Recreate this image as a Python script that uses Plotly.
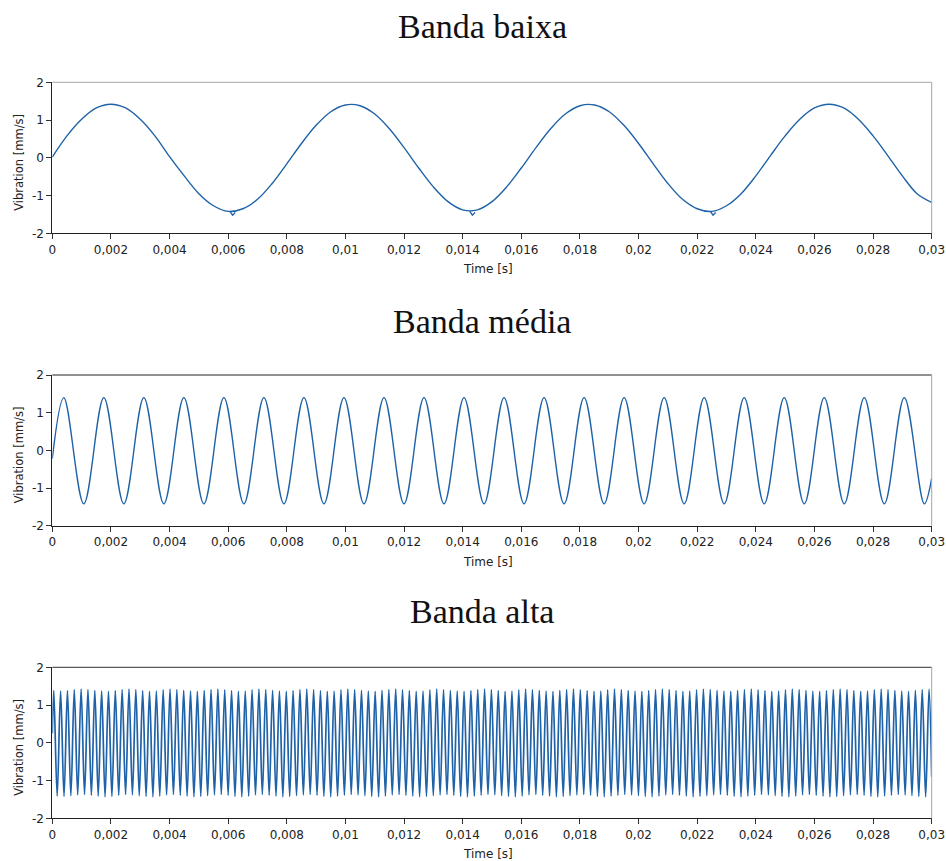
import numpy as np
import plotly.graph_objects as go

# ---------------- data ----------------
time_ticks = [0, 0.002, 0.004, 0.006, 0.008, 0.01, 0.012, 0.014, 0.016,
              0.018, 0.02, 0.022, 0.024, 0.026, 0.028, 0.03]
time_tick_labels = ["0", "0,002", "0,004", "0,006", "0,008", "0,01", "0,012",
                    "0,014", "0,016", "0,018", "0,02", "0,022", "0,024",
                    "0,026", "0,028", "0,03"]
vib_ticks = [-2, -1, 0, 1, 2]
vib_tick_labels = ["-2", "-1", "0", "1", "2"]

panel_titles = ["Banda baixa", "Banda média", "Banda alta"]

# low band: readings every 0.5 ms (mm/s)
low_step = 0.0005
low_v = [0.02, 0.58, 1.02, 1.32, 1.42, 1.32, 1.02, 0.58, 0.03, -0.48,
         -0.95, -1.27, -1.42, -1.35, -1.10, -0.68, -0.16, 0.38, 0.86, 1.22,
         1.40, 1.38, 1.16, 0.77, 0.27, -0.27, -0.77, -1.16, -1.38, -1.38,
         -1.16, -0.77, -0.27, 0.27, 0.77, 1.16, 1.38, 1.40, 1.22, 0.86,
         0.38, -0.16, -0.68, -1.10, -1.35, -1.42, -1.27, -0.95, -0.48, 0.06,
         0.58, 1.02, 1.32, 1.42, 1.32, 1.02, 0.58, 0.06, -0.48, -0.95,
         -1.18]
# small glitches at the troughs of the low band
low_glitch_t = [0.00606, 0.00615, 0.00624, None,
                0.01424, 0.01433, 0.01442, None,
                0.02245, 0.02254, 0.02263]
low_glitch_v = [-1.42, -1.52, -1.45, None,
                -1.41, -1.52, -1.45, None,
                -1.42, -1.52, -1.45]

# mid band: start value, alternating peaks/troughs, end value
mid_start_v = -0.22
mid_first_peak_t = 0.000392
mid_last_trough_t = 0.029748
mid_extremes = [1.40, -1.42, 1.40, -1.42, 1.40, -1.42, 1.40, -1.42, 1.40, -1.42, 1.40,
                -1.42, 1.40, -1.42, 1.40, -1.42, 1.40, -1.42, 1.40, -1.42, 1.40, -1.42,
                1.40, -1.42, 1.40, -1.42, 1.40, -1.42, 1.40, -1.42, 1.40, -1.42, 1.40,
                -1.42, 1.40, -1.42, 1.40, -1.42, 1.40, -1.42, 1.40, -1.42, 1.40, -1.42]
mid_end_v = -0.74

# high band: start value, peaks and troughs, end value
high_start_v = 0.25
high_first_peak_t = 0.00005
high_last_peak_t = 0.02991
high_peaks = [
    1.38, 1.37, 1.38, 1.41, 1.42, 1.41, 1.39, 1.37, 1.36, 1.38, 1.41, 1.42, 1.41, 1.38, 1.36, 1.37,
    1.40, 1.42, 1.41, 1.39, 1.37, 1.36, 1.39, 1.41, 1.42, 1.40, 1.38, 1.36, 1.37, 1.40, 1.42, 1.41,
    1.39, 1.37, 1.36, 1.38, 1.41, 1.42, 1.41, 1.38, 1.36, 1.37, 1.40, 1.42, 1.41, 1.39, 1.37, 1.36,
    1.39, 1.41, 1.42, 1.40, 1.38, 1.36, 1.37, 1.40, 1.42, 1.41, 1.39, 1.37, 1.36, 1.38, 1.41, 1.42,
    1.41, 1.38, 1.36, 1.37, 1.40, 1.42, 1.41, 1.39, 1.37, 1.36, 1.39, 1.41, 1.42, 1.40, 1.38, 1.36,
    1.37, 1.40, 1.42, 1.41, 1.39, 1.37, 1.36, 1.38, 1.41, 1.42, 1.41, 1.38, 1.36, 1.37, 1.40, 1.42,
    1.41, 1.39, 1.37, 1.36, 1.39, 1.41, 1.42, 1.40, 1.38, 1.36, 1.37, 1.40, 1.42, 1.41, 1.39, 1.37,
    1.36, 1.38, 1.41, 1.42, 1.41, 1.38, 1.36, 1.37, 1.40, 1.42, 1.41, 1.39, 1.37, 1.36, 1.39, 1.41,
    1.42]
high_troughs = [
    -1.41, -1.42, -1.40, -1.38, -1.37, -1.39, -1.41, -1.43, -1.42, -1.39, -1.37, -1.38, -1.40, -1.42, -1.43, -1.41,
    -1.38, -1.37, -1.39, -1.41, -1.43, -1.42, -1.40, -1.38, -1.37, -1.39, -1.42, -1.43, -1.41, -1.38, -1.37, -1.39,
    -1.41, -1.43, -1.42, -1.40, -1.38, -1.37, -1.39, -1.42, -1.43, -1.41, -1.39, -1.37, -1.38, -1.40, -1.42, -1.43,
    -1.41, -1.38, -1.37, -1.39, -1.41, -1.43, -1.42, -1.40, -1.38, -1.37, -1.39, -1.42, -1.43, -1.41, -1.39, -1.37,
    -1.38, -1.40, -1.42, -1.43, -1.41, -1.38, -1.37, -1.39, -1.41, -1.43, -1.42, -1.40, -1.38, -1.37, -1.39, -1.42,
    -1.43, -1.41, -1.39, -1.37, -1.38, -1.40, -1.42, -1.43, -1.41, -1.38, -1.37, -1.39, -1.41, -1.43, -1.42, -1.40,
    -1.38, -1.37, -1.39, -1.42, -1.43, -1.41, -1.39, -1.37, -1.38, -1.40, -1.42, -1.43, -1.41, -1.38, -1.37, -1.39,
    -1.41, -1.43, -1.42, -1.40, -1.38, -1.37, -1.39, -1.42, -1.43, -1.41, -1.39, -1.37, -1.38, -1.40, -1.42, -1.43]
high_end_v = -0.90

t_end = 0.03

# ---------------- assemble traces ----------------
low_t = [round(k * low_step, 6) for k in range(len(low_v))]

mid_t = [0.0] + list(np.linspace(mid_first_peak_t, mid_last_trough_t, len(mid_extremes))) + [t_end]
mid_v = [mid_start_v] + mid_extremes + [mid_end_v]

high_ext = []
for p, q in zip(high_peaks, high_troughs):
    high_ext += [p, q]
high_ext.append(high_peaks[-1])
high_t = [0.0] + list(np.linspace(high_first_peak_t, high_last_peak_t, len(high_ext))) + [t_end]
high_v = [high_start_v] + high_ext + [high_end_v]

series = [(low_t, low_v), (mid_t, mid_v), (high_t, high_v)]
line_widths = [1.4, 1.4, 1.7]

# ---------------- layout geometry (pixels) ----------------
W, H = 946, 861


def fx(px):
    return px / W


def fy(py):
    return 1 - py / H


plot_x0, plot_x1 = 52.3, 931.7
panel_rows = [(82.3, 233.3), (375.0, 525.7), (667.3, 818.3)]
title_y = [27, 321, 611]
top_line_colors = ["#a6a6a6", "#222222", "#333333"]

LINE_COLOR = "#1f62a8"
TICK_FONT = dict(family="DejaVu Sans", size=12, color="#222222")
TITLE_FONT = dict(family="Liberation Serif", size=34, color="#111111")

fig = go.Figure()
annotations = []
shapes = []

for i, ((t, v), (ytop, ybot)) in enumerate(zip(series, panel_rows)):
    n = "" if i == 0 else str(i + 1)
    fig.add_trace(go.Scatter(
        x=t, y=v, mode="lines",
        line=dict(color=LINE_COLOR, width=line_widths[i], shape="spline", smoothing=1.0),
        xaxis="x" + n, yaxis="y" + n, showlegend=False, hoverinfo="skip",
    ))
    if i == 0:
        fig.add_trace(go.Scatter(
            x=low_glitch_t, y=low_glitch_v, mode="lines", connectgaps=False,
            line=dict(color=LINE_COLOR, width=1.3),
            xaxis="x", yaxis="y", showlegend=False, hoverinfo="skip",
        ))
    common = dict(
        tickmode="array", ticks="outside", ticklen=5, tickcolor="#333333",
        tickfont=TICK_FONT, showline=True, linecolor="#222222", linewidth=1,
        mirror=False, showgrid=False, zeroline=False, fixedrange=True,
        automargin=False, ticklabeloverflow="allow",
    )
    fig.update_layout(**{
        "xaxis" + n: dict(
            domain=[fx(plot_x0), fx(plot_x1)], anchor="y" + n, range=[0, 0.03],
            tickvals=time_ticks, ticktext=time_tick_labels, **common,
        ),
        "yaxis" + n: dict(
            domain=[fy(ybot), fy(ytop)], anchor="x" + n, range=[-2, 2],
            tickvals=vib_ticks, ticktext=vib_tick_labels, **common,
        ),
    })
    # top and right frame edges
    shapes.append(dict(type="line", xref="x" + n + " domain", yref="y" + n + " domain",
                       x0=0, x1=1, y0=1, y1=1, line=dict(color=top_line_colors[i], width=1)))
    shapes.append(dict(type="line", xref="x" + n + " domain", yref="y" + n + " domain",
                       x0=1, x1=1, y0=0, y1=1, line=dict(color="#a6a6a6", width=1)))

    # panel title
    annotations.append(dict(text=panel_titles[i], xref="paper", yref="paper",
                            x=fx(482.5), y=fy(title_y[i]), xanchor="center",
                            yanchor="middle", showarrow=False, font=TITLE_FONT))
    # axis titles
    annotations.append(dict(text="Time [s]", xref="paper", yref="paper",
                            x=fx(488), y=fy(ybot + 36), xanchor="center",
                            yanchor="middle", showarrow=False, font=TICK_FONT))
    annotations.append(dict(text="Vibration [mm/s]", xref="paper", yref="paper",
                            x=fx(19), y=fy((ytop + ybot) / 2 + 5), xanchor="center",
                            yanchor="middle", textangle=-90, showarrow=False,
                            font=dict(family="DejaVu Sans", size=11.5, color="#222222")))

fig.update_layout(
    width=W, height=H,
    margin=dict(l=0, r=0, t=0, b=0, autoexpand=False),
    paper_bgcolor="white", plot_bgcolor="white",
    annotations=annotations, shapes=shapes,
    showlegend=False,
)

fig.write_html("out.html", config={"displayModeBar": False})
